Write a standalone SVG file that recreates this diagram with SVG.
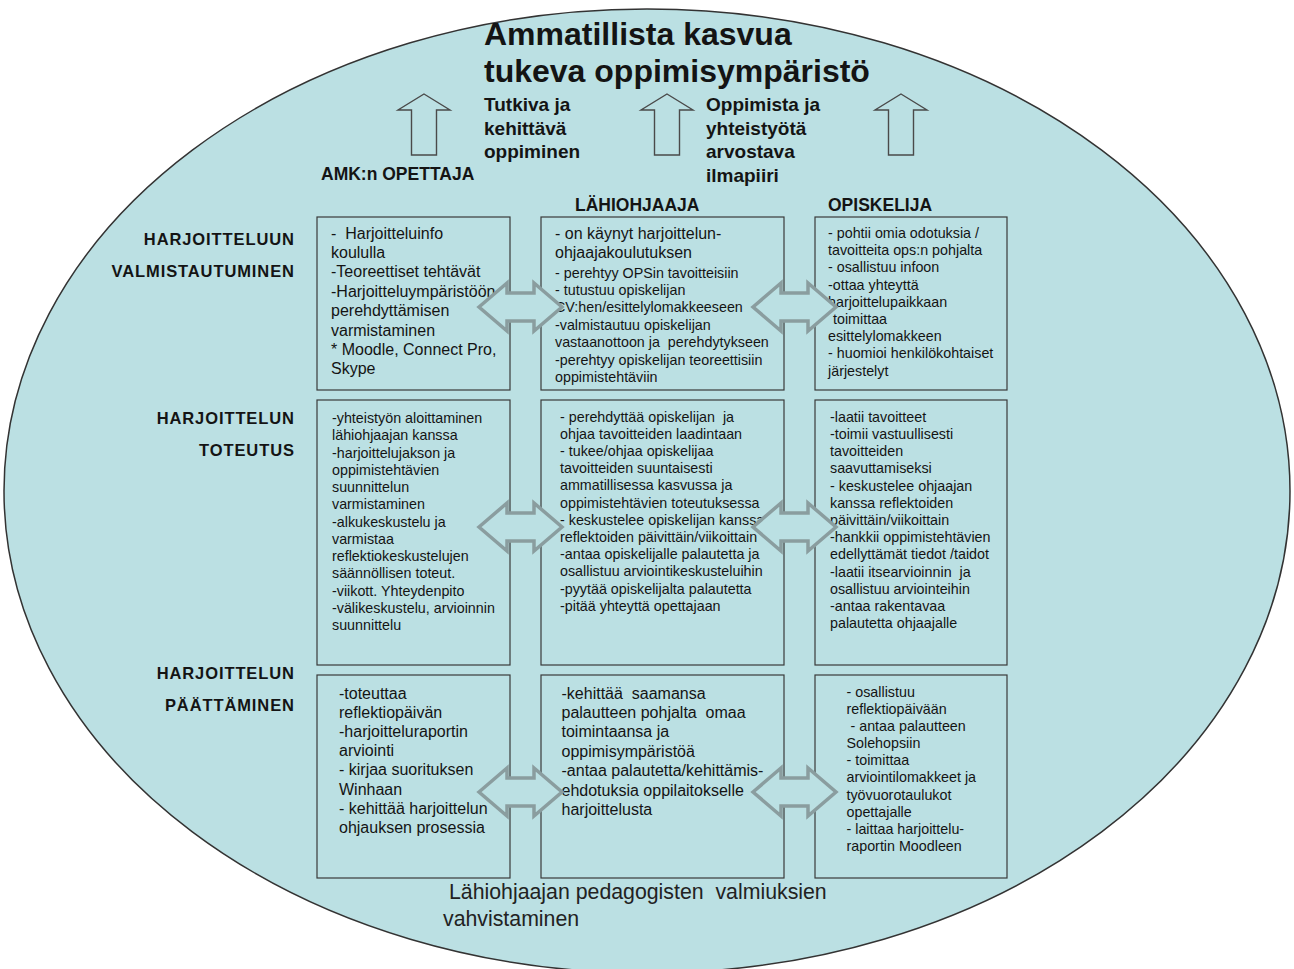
<svg xmlns="http://www.w3.org/2000/svg" xmlns:xlink="http://www.w3.org/1999/xlink" width="1294" height="969" viewBox="0 0 1294 969" xml:space="preserve">
<style>
text{font-family:"Liberation Sans",Arial,sans-serif;fill:#141414;white-space:pre}
.t{font-size:32px;font-weight:bold}
.s{font-size:19px;font-weight:bold}
.h{font-size:17.5px;font-weight:bold}
.r{font-size:16.5px;font-weight:bold;letter-spacing:0.9px;text-anchor:end}
.b16{font-size:16px}
.b14{font-size:14.3px}
.f{font-size:21.3px;fill:#222}
.box{fill:none;stroke:#3a3a3a;stroke-width:1.2}
.dbl{fill:#BBE0E3;stroke:#8A9D9F;stroke-width:3.5;stroke-linejoin:miter}
.up{fill:#BBE0E3;stroke:#4a4a4a;stroke-width:1.4}
</style>
<defs>
<path id="dblArrow" d="M-41.5,0 L-13.5,-24 L-13.5,-14 L13.5,-14 L13.5,-24 L41.5,0 L13.5,24 L13.5,14 L-13.5,14 L-13.5,24 Z"/>
<path id="upArrow" d="M0,94 L26,110 L12.5,110 L12.5,155 L-12.5,155 L-12.5,110 L-26,110 Z"/>
</defs>
<rect width="1294" height="969" fill="#ffffff"/>
<ellipse id="background" cx="647" cy="491" rx="643" ry="482" fill="#BBE0E3" stroke="#333" stroke-width="1.5"/>
<g id="title"><text class="t" x="484" y="45">Ammatillista kasvua</text><text class="t" x="484" y="82">tukeva oppimisympäristö</text></g>
<g id="label-tutkiva"><text class="s" x="484" y="111">Tutkiva ja<tspan x="484" dy="23.5">kehittävä</tspan><tspan x="484" dy="23.5">oppiminen</tspan></text></g>
<g id="label-oppimista"><text class="s" x="706" y="111">Oppimista ja<tspan x="706" dy="23.5">yhteistyötä</tspan><tspan x="706" dy="23.5">arvostava</tspan><tspan x="706" dy="23.5">ilmapiiri</tspan></text></g>
<g id="header-opettaja"><text class="h" x="321" y="180">AMK:n OPETTAJA</text></g>
<g id="header-lahiohjaaja"><text class="h" x="575" y="210.5">LÄHIOHJAAJA</text></g>
<g id="header-opiskelija"><text class="h" x="828" y="210.5">OPISKELIJA</text></g>
<g id="row-label-1"><text class="r" x="294.9" y="245">HARJOITTELUUN</text><text class="r" x="294.9" y="277">VALMISTAUTUMINEN</text></g>
<g id="row-label-2"><text class="r" x="294.9" y="424">HARJOITTELUN</text><text class="r" x="294.9" y="456">TOTEUTUS</text></g>
<g id="row-label-3"><text class="r" x="294.9" y="679">HARJOITTELUN</text><text class="r" x="294.9" y="711">PÄÄTTÄMINEN</text></g>
<g id="box-opettaja-valmistautuminen"><rect class="box" x="317" y="217" width="193" height="173"/><text class="b16" x="331" y="238.5">-  Harjoitteluinfo<tspan x="331" dy="19.4">koululla</tspan><tspan x="331" dy="19.4">-Teoreettiset tehtävät</tspan><tspan x="331" dy="19.4">-Harjoitteluympäristöön</tspan><tspan x="331" dy="19.4">perehdyttämisen</tspan><tspan x="331" dy="19.4">varmistaminen</tspan><tspan x="331" dy="19.4">* Moodle, Connect Pro,</tspan><tspan x="331" dy="19.4">Skype</tspan></text></g>
<g id="box-lahiohjaaja-valmistautuminen"><rect class="box" x="541" y="217" width="243" height="173"/><text class="b16" x="555" y="238.5">- on käynyt harjoittelun-<tspan x="555" dy="19.5">ohjaajakoulutuksen</tspan></text><text class="b14" x="555" y="277.5">- perehtyy OPSin tavoitteisiin<tspan x="555" dy="17.4">- tutustuu opiskelijan</tspan><tspan x="555" dy="17.4">CV:hen/esittelylomakkeeseen</tspan><tspan x="555" dy="17.4">-valmistautuu opiskelijan</tspan><tspan x="555" dy="17.4">vastaanottoon ja  perehdytykseen</tspan><tspan x="555" dy="17.4">-perehtyy opiskelijan teoreettisiin</tspan><tspan x="555" dy="17.4">oppimistehtäviin</tspan></text></g>
<g id="box-opiskelija-valmistautuminen"><rect class="box" x="815" y="217" width="192" height="173"/><text class="b14" x="828" y="238">- pohtii omia odotuksia /<tspan x="828" dy="17.2">tavoitteita ops:n pohjalta</tspan><tspan x="828" dy="17.2">- osallistuu infoon</tspan><tspan x="828" dy="17.2">-ottaa yhteyttä</tspan><tspan x="828" dy="17.2">harjoittelupaikkaan</tspan><tspan x="833" dy="17.2">toimittaa</tspan><tspan x="828" dy="17.2">esittelylomakkeen</tspan><tspan x="828" dy="17.2">- huomioi henkilökohtaiset</tspan><tspan x="828" dy="17.2">järjestelyt</tspan></text></g>
<g id="box-opettaja-toteutus"><rect class="box" x="317" y="400" width="193" height="265"/><text class="b14" x="332" y="423">-yhteistyön aloittaminen<tspan x="332" dy="17.25">lähiohjaajan kanssa</tspan><tspan x="332" dy="17.25">-harjoittelujakson ja</tspan><tspan x="332" dy="17.25">oppimistehtävien</tspan><tspan x="332" dy="17.25">suunnittelun</tspan><tspan x="332" dy="17.25">varmistaminen</tspan><tspan x="332" dy="17.25">-alkukeskustelu ja</tspan><tspan x="332" dy="17.25">varmistaa</tspan><tspan x="332" dy="17.25">reflektiokeskustelujen</tspan><tspan x="332" dy="17.25">säännöllisen toteut.</tspan><tspan x="332" dy="17.25">-viikott. Yhteydenpito</tspan><tspan x="332" dy="17.25">-välikeskustelu, arvioinnin</tspan><tspan x="332" dy="17.25">suunnittelu</tspan></text></g>
<g id="box-lahiohjaaja-toteutus"><rect class="box" x="541" y="400" width="243" height="265"/><text class="b14" x="560" y="421.5">- perehdyttää opiskelijan  ja<tspan x="560" dy="17.2">ohjaa tavoitteiden laadintaan</tspan><tspan x="560" dy="17.2">- tukee/ohjaa opiskelijaa</tspan><tspan x="560" dy="17.2">tavoitteiden suuntaisesti</tspan><tspan x="560" dy="17.2">ammatillisessa kasvussa ja</tspan><tspan x="560" dy="17.2">oppimistehtävien toteutuksessa</tspan><tspan x="560" dy="17.2">- keskustelee opiskelijan kanssa</tspan><tspan x="560" dy="17.2">reflektoiden päivittäin/viikoittain</tspan><tspan x="560" dy="17.2">-antaa opiskelijalle palautetta ja</tspan><tspan x="560" dy="17.2">osallistuu arviointikeskusteluihin</tspan><tspan x="560" dy="17.2">-pyytää opiskelijalta palautetta</tspan><tspan x="560" dy="17.2">-pitää yhteyttä opettajaan</tspan></text></g>
<g id="box-opiskelija-toteutus"><rect class="box" x="815" y="400" width="192" height="265"/><text class="b14" x="830" y="421.7">-laatii tavoitteet<tspan x="830" dy="17.2">-toimii vastuullisesti</tspan><tspan x="830" dy="17.2">tavoitteiden</tspan><tspan x="830" dy="17.2">saavuttamiseksi</tspan><tspan x="830" dy="17.2">- keskustelee ohjaajan</tspan><tspan x="830" dy="17.2">kanssa reflektoiden</tspan><tspan x="830" dy="17.2">päivittäin/viikoittain</tspan><tspan x="830" dy="17.2">-hankkii oppimistehtävien</tspan><tspan x="830" dy="17.2">edellyttämät tiedot /taidot</tspan><tspan x="830" dy="17.2">-laatii itsearvioinnin  ja</tspan><tspan x="830" dy="17.2">osallistuu arviointeihin</tspan><tspan x="830" dy="17.2">-antaa rakentavaa</tspan><tspan x="830" dy="17.2">palautetta ohjaajalle</tspan></text></g>
<g id="box-opettaja-paattaminen"><rect class="box" x="317" y="675" width="193" height="203"/><text class="b16" x="339" y="698.5">-toteuttaa<tspan x="339" dy="19.2">reflektiopäivän</tspan><tspan x="339" dy="19.2">-harjoitteluraportin</tspan><tspan x="339" dy="19.2">arviointi</tspan><tspan x="339" dy="19.2">- kirjaa suorituksen</tspan><tspan x="339" dy="19.2">Winhaan</tspan><tspan x="339" dy="19.2">- kehittää harjoittelun</tspan><tspan x="339" dy="19.2">ohjauksen prosessia</tspan></text></g>
<g id="box-lahiohjaaja-paattaminen"><rect class="box" x="541" y="675" width="243" height="203"/><text class="b16" x="561.5" y="698.5">-kehittää  saamansa<tspan x="561.5" dy="19.4">palautteen pohjalta  omaa</tspan><tspan x="561.5" dy="19.4">toimintaansa ja</tspan><tspan x="561.5" dy="19.4">oppimisympäristöä</tspan><tspan x="561.5" dy="19.4">-antaa palautetta/kehittämis-</tspan><tspan x="561.5" dy="19.4">ehdotuksia oppilaitokselle</tspan><tspan x="561.5" dy="19.4">harjoittelusta</tspan></text></g>
<g id="box-opiskelija-paattaminen"><rect class="box" x="815" y="675" width="192" height="203"/><text class="b14" x="846.5" y="696.7">- osallistuu<tspan x="846.5" dy="17.15">reflektiopäivään</tspan><tspan x="846.5" dy="17.15"> - antaa palautteen</tspan><tspan x="846.5" dy="17.15">Solehopsiin</tspan><tspan x="846.5" dy="17.15">- toimittaa</tspan><tspan x="846.5" dy="17.15">arviointilomakkeet ja</tspan><tspan x="846.5" dy="17.15">työvuorotaulukot</tspan><tspan x="846.5" dy="17.15">opettajalle</tspan><tspan x="846.5" dy="17.15">- laittaa harjoittelu-</tspan><tspan x="846.5" dy="17.15">raportin Moodleen</tspan></text></g>
<g id="footer"><text class="f" x="449" y="899">Lähiohjaajan pedagogisten  valmiuksien</text><text class="f" x="443" y="926">vahvistaminen</text></g>
<g id="connectors">
<use xlink:href="#upArrow" class="up" transform="translate(424,0)"/>
<use xlink:href="#upArrow" class="up" transform="translate(667,0)"/>
<use xlink:href="#upArrow" class="up" transform="translate(901,0)"/>
<use xlink:href="#dblArrow" class="dbl" transform="translate(520.5,307)"/>
<use xlink:href="#dblArrow" class="dbl" transform="translate(794.5,307)"/>
<use xlink:href="#dblArrow" class="dbl" transform="translate(520.5,527)"/>
<use xlink:href="#dblArrow" class="dbl" transform="translate(794.5,527)"/>
<use xlink:href="#dblArrow" class="dbl" transform="translate(520.5,792)"/>
<use xlink:href="#dblArrow" class="dbl" transform="translate(794.5,792)"/>
</g>
</svg>
